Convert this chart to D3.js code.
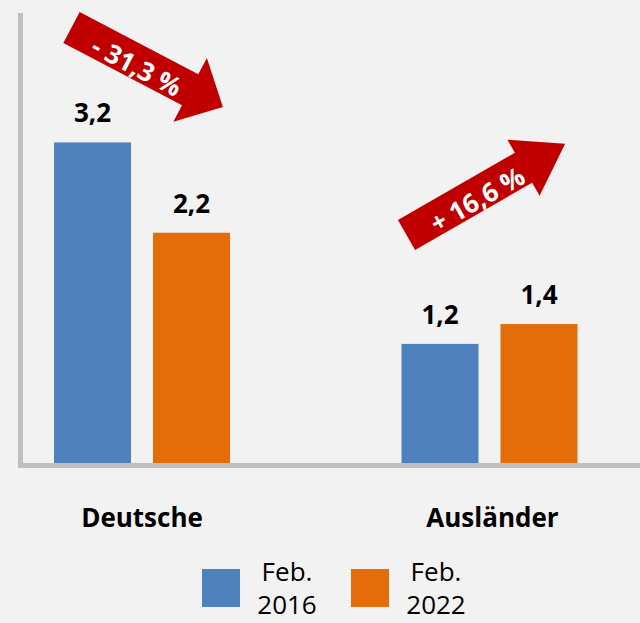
<!DOCTYPE html>
<html>
<head>
<meta charset="utf-8">
<script src="https://cdn.jsdelivr.net/npm/d3@7"></script>
<style>
  html, body { margin: 0; padding: 0; background: #f2f2f2; }
  svg { display: block; }
  text { font-family: "Open Sans", sans-serif; }
</style>
</head>
<body>
<svg id="chart" width="640" height="623"></svg>
<script>
// ---- data ----
const categories = ["Deutsche", "Ausländer"];
const seriesNames = ["Feb. 2016", "Feb. 2022"];
const seriesColors = ["#4f81bd", "#e46c0a"];
// bar heights
const values2016 = [3.23, 1.2];
const values2022 = [2.32, 1.4];
// printed labels
const labels2016 = ["3,2", "1,2"];
const labels2022 = ["2,2", "1,4"];
const changeLabels = ["- 31,3 %", "+ 16,6 %"];

const table = categories.map((c, i) => ({
  category: c,
  bars: [
    { series: seriesNames[0], value: values2016[i], label: labels2016[i], color: seriesColors[0] },
    { series: seriesNames[1], value: values2022[i], label: labels2022[i], color: seriesColors[1] }
  ]
}));

const svg = d3.select("#chart");
svg.append("rect").attr("width", 640).attr("height", 623).attr("fill", "#f2f2f2");

const baseY = 463;
const pxPerUnit = 99.25;
const y = d3.scaleLinear().domain([0, 4.5]).range([baseY, baseY - 4.5 * pxPerUnit]);

const x0 = d3.scaleBand().domain(categories).range([54, 577.5]).paddingInner(0.4935).paddingOuter(0);
const x1 = d3.scaleBand().domain(seriesNames).range([0, x0.bandwidth()]).paddingInner(0.222).paddingOuter(0);

// axes lines
const axisColor = "#bfbfbf";
const yAxis = svg.append("g").attr("transform", "translate(20.5,0)")
  .call(d3.axisLeft(y).tickValues([]).tickSize(0));
yAxis.select(".domain").attr("stroke", axisColor).attr("stroke-width", 5)
  .attr("d", `M0,${y(4.5) - 3.5}V${baseY + 5}`);

const xAxis = svg.append("g").attr("transform", `translate(0,${baseY + 2.5})`)
  .call(d3.axisBottom(x0).tickSize(0).tickPadding(43));
xAxis.select(".domain").attr("stroke", axisColor).attr("stroke-width", 5)
  .attr("d", "M18,0H640");
xAxis.selectAll(".tick text")
  .attr("font-family", "Open Sans, sans-serif")
  .attr("font-size", 26).attr("font-weight", "bold").attr("fill", "#000")
  .attr("dx", (d) => d === "Ausländer" ? 3 : 0);

// bars
const groups = svg.append("g").selectAll("g").data(table).join("g")
  .attr("transform", d => `translate(${x0(d.category)},0)`);

groups.selectAll("rect").data(d => d.bars).join("rect")
  .attr("x", d => x1(d.series))
  .attr("y", d => y(d.value))
  .attr("width", x1.bandwidth())
  .attr("height", d => y(0) - y(d.value))
  .attr("fill", d => d.color);

groups.selectAll("text.val").data(d => d.bars).join("text")
  .attr("class", "val")
  .attr("x", d => x1(d.series) + x1.bandwidth() / 2)
  .attr("y", d => y(d.value) - 20)
  .attr("text-anchor", "middle")
  .attr("font-size", 26).attr("font-weight", "bold").attr("fill", "#000")
  .text(d => d.label);

// change arrows (annotations)
const arrows = [
  { tx: 71.5, ty: 27.5, angle: 27.7, len: 171, w: 35, hw: 72, hl: 37, label: changeLabels[0], lx: 137, ly: 66 },
  { tx: 406.5, ty: 235, angle: -29.9, len: 183, w: 34.5, hw: 64.5, hl: 48, label: changeLabels[1], lx: 477, ly: 199 }
];
arrows.forEach(a => {
  const s = a.len - a.hl;
  const pts = [[0, -a.w / 2], [s, -a.w / 2], [s, -a.hw / 2], [a.len, 0], [s, a.hw / 2], [s, a.w / 2], [0, a.w / 2]];
  svg.append("path")
    .attr("d", d3.line()(pts) + "Z")
    .attr("fill", "#c00000")
    .attr("transform", `translate(${a.tx},${a.ty}) rotate(${a.angle})`);
  svg.append("text")
    .attr("transform", `translate(${a.lx},${a.ly}) rotate(${a.angle})`)
    .attr("text-anchor", "middle")
    .attr("dominant-baseline", "central")
    .attr("font-size", 26).attr("font-weight", "bold").attr("fill", "#fff")
    .text(a.label);
});

// legend
const legendX = [202, 351];
const legend = svg.append("g").selectAll("g").data(seriesNames).join("g")
  .attr("transform", (d, i) => `translate(${legendX[i]},569)`);
legend.append("rect").attr("width", 38).attr("height", 38).attr("fill", (d, i) => seriesColors[i]);
legend.each(function(d) {
  const parts = d.split(" ");
  const t = d3.select(this).append("text")
    .attr("text-anchor", "middle")
    .attr("font-size", 26).attr("fill", "#000");
  parts.forEach((p, k) => {
    t.append("tspan").attr("x", 85).attr("y", 12 + k * 33).text(p);
  });
});
</script>
</body>
</html>
